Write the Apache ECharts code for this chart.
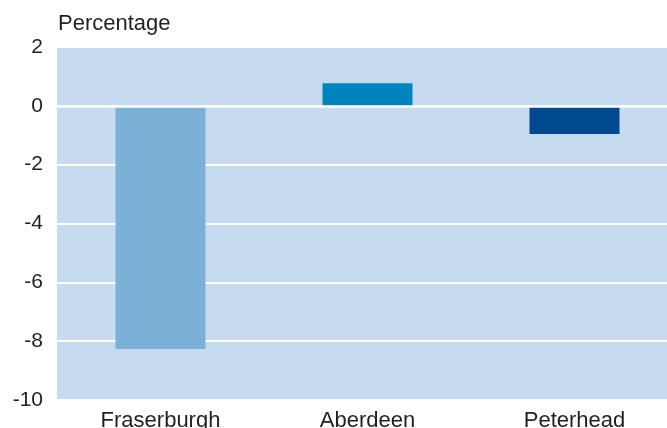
<!DOCTYPE html>
<html>
<head>
<meta charset="utf-8">
<script src="https://cdn.jsdelivr.net/npm/echarts@6/dist/echarts.min.js"></script>
<style>
html,body{margin:0;padding:0;background:#fff;}
#chart{width:667px;height:428px;}
</style>
</head>
<body>
<div id="chart"></div>
<script>
var categories = ['Fraserburgh', 'Aberdeen', 'Peterhead'];
var values = [-8.27, 0.77, -0.96];
var barColors = ['#7bb1d6', '#0084bd', '#00498f'];
var yTicks = [2, 0, -2, -4, -6, -8, -10];
var yAxisTitle = 'Percentage';

var chart = echarts.init(document.getElementById('chart'), null, {renderer: 'canvas'});
var font = '"Liberation Sans", Arial, Helvetica, sans-serif';
chart.setOption({
  animation: false,
  graphic: [{
    type: 'text',
    left: 58,
    top: 13,
    style: {text: yAxisTitle, font: '22px ' + font, fill: '#231f20'}
  }],
  grid: {
    left: 57, top: 47, right: -11, bottom: 28,
    outerBoundsMode: 'none',
    containLabel: false,
    show: true, backgroundColor: '#c6dbef', borderWidth: 0
  },
  xAxis: {
    type: 'category',
    data: categories,
    z: 5,
    axisLine: {show: true, onZero: true, lineStyle: {color: '#ffffff', width: 2.5}},
    axisTick: {show: false},
    axisLabel: {
      show: true, color: '#231f20', fontSize: 22, fontFamily: font, margin: 10,
      interval: 0
    },
    splitLine: {show: false}
  },
  yAxis: {
    type: 'value',
    min: -10, max: 2, interval: 2,
    axisLine: {show: false},
    axisTick: {show: false},
    axisLabel: {color: '#231f20', fontSize: 21, fontFamily: font, margin: 14},
    splitLine: {show: true, lineStyle: {color: '#ffffff', width: 2}}
  },
  series: [{
    type: 'bar',
    barWidth: 90,
    data: values.map(function (v, i) {
      return {value: v, itemStyle: {color: barColors[i]}};
    })
  }]
});
</script>
</body>
</html>
